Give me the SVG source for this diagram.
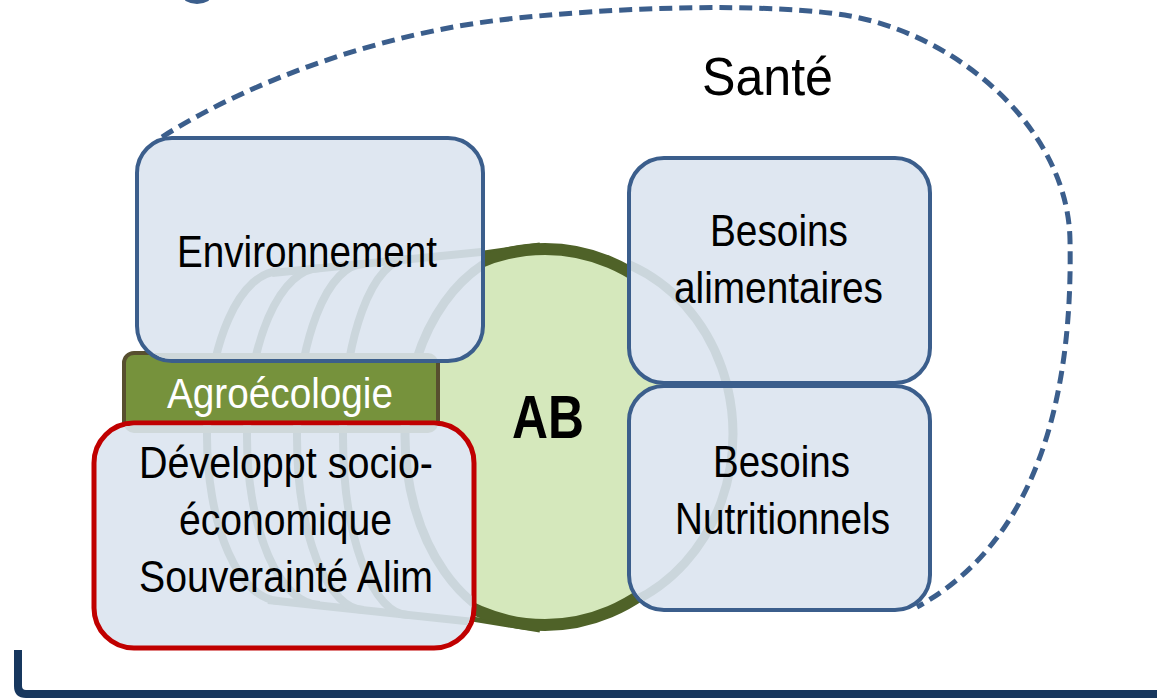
<svg xmlns="http://www.w3.org/2000/svg" xmlns:xlink="http://www.w3.org/1999/xlink" width="1157" height="698" viewBox="0 0 1157 698">
<defs>
<style>
.box{fill:#dfe7f1;stroke:#3b5e8c;stroke-width:4}
.red{fill:#dfe7f1;stroke:#c00000;stroke-width:5}
.lbl{font-family:"Liberation Sans",Arial,sans-serif;font-size:44px;fill:#000;text-anchor:middle}
.rib{fill:none;stroke:#cbd6dc;stroke-width:8}
.ghost{fill:#cfd8da}
.dash{fill:none;stroke:#3b5e8c;stroke-width:5;stroke-dasharray:13 7}
</style>
<clipPath id="cEnv"><rect x="139" y="140" width="342" height="219" rx="33"/></clipPath>
<clipPath id="cDev"><rect x="96.5" y="425.5" width="375" height="220" rx="37.5"/></clipPath>
<clipPath id="cBA"><rect x="631" y="160" width="297" height="221" rx="33"/></clipPath>
<clipPath id="cBN"><rect x="631" y="388" width="297" height="220" rx="33"/></clipPath>
<g id="ribsLeft">
<path class="rib" d="M272 273 L560 244"/>
<path class="rib" d="M268 600 L560 631"/>
<path class="rib" d="M280 271 A73 165 0 0 0 207 436 A73 165 0 0 0 280 601"/>
<path class="rib" d="M320 268 A73 169 0 0 0 247 437 A73 168 0 0 0 320 605"/>
<path class="rib" d="M364 264 A67 173 0 0 0 297 437 A67 173 0 0 0 364 610"/>
<path class="rib" d="M408 259 A65 178 0 0 0 343 437 A65 178 0 0 0 408 615"/>
<path class="rib" style="stroke-width:9" d="M540 247 A135 189 0 0 0 405 436 A135 192 0 0 0 540 628"/>
</g>
<ellipse id="ribRight" class="rib" style="stroke-width:9" cx="569" cy="434" rx="164" ry="182"/>
<rect id="agroGhost" class="ghost" x="124" y="353" width="314" height="80" rx="10"/>
</defs>

<rect x="0" y="0" width="1157" height="698" fill="#ffffff"/>

<g id="frame">
<path d="M186 -1 Q197 5 208 -1" fill="none" stroke="#3b5e8c" stroke-width="4"/>
<path d="M18 650 L18 686 Q18 694 26 694 L1160 694" fill="none" stroke="#17375e" stroke-width="8"/>
</g>

<g id="node-sante">
<path class="dash" d="M162 137 C260 75 390 33 500 20 C610 7 770 2 850 16 C960 36 1068 130 1070 240 C1073 390 1040 540 917 607"/>
<text x="767.5" y="95" class="lbl" style="font-size:54px" textLength="131" lengthAdjust="spacingAndGlyphs">Santé</text>
</g>

<g id="node-ab">
<path d="M470 255 L540 245" fill="none" stroke="#4f6228" stroke-width="5"/>
<path d="M460 617 L540 630" fill="none" stroke="#4f6228" stroke-width="5"/>
<ellipse cx="545" cy="437" rx="176" ry="188" fill="#d5e8bc" stroke="#4f6228" stroke-width="12"/>
<text x="548" y="438" class="lbl" style="font-size:62px;font-weight:bold" textLength="72" lengthAdjust="spacingAndGlyphs">AB</text>
</g>

<g id="node-agro">
<rect x="124" y="353" width="314" height="80" rx="10" fill="#76923c" stroke="#574f2f" stroke-width="4"/>
<text x="280" y="408" class="lbl" style="font-size:42px;fill:#ffffff" textLength="226" lengthAdjust="spacingAndGlyphs">Agroécologie</text>
</g>

<g id="node-env">
<rect class="box" x="137" y="138" width="346" height="223" rx="35"/>
<g clip-path="url(#cEnv)">
<use xlink:href="#ribsLeft"/>
<use xlink:href="#agroGhost"/>
</g>
<text x="307" y="267" class="lbl" textLength="260" lengthAdjust="spacingAndGlyphs">Environnement</text>
</g>

<g id="node-dev">
<rect class="red" x="94" y="423" width="380" height="225" rx="40"/>
<g clip-path="url(#cDev)">
<use xlink:href="#ribsLeft"/>
<use xlink:href="#agroGhost"/>
</g>
<text x="286" y="478" class="lbl" textLength="294" lengthAdjust="spacingAndGlyphs">Développt socio-</text>
<text x="285.5" y="535" class="lbl" textLength="213" lengthAdjust="spacingAndGlyphs">économique</text>
<text x="286" y="592" class="lbl" textLength="294" lengthAdjust="spacingAndGlyphs">Souverainté Alim</text>
</g>

<g id="node-ba">
<rect class="box" x="629" y="158" width="301" height="225" rx="35"/>
<g clip-path="url(#cBA)"><use xlink:href="#ribRight"/></g>
<text x="779" y="246" class="lbl" textLength="138" lengthAdjust="spacingAndGlyphs">Besoins</text>
<text x="778.5" y="303" class="lbl" textLength="209" lengthAdjust="spacingAndGlyphs">alimentaires</text>
</g>

<g id="node-bn">
<rect class="box" x="629" y="386" width="301" height="224" rx="35"/>
<g clip-path="url(#cBN)"><use xlink:href="#ribRight"/></g>
<text x="781.5" y="477" class="lbl" textLength="137" lengthAdjust="spacingAndGlyphs">Besoins</text>
<text x="782.5" y="534" class="lbl" textLength="215" lengthAdjust="spacingAndGlyphs">Nutritionnels</text>
</g>
</svg>
